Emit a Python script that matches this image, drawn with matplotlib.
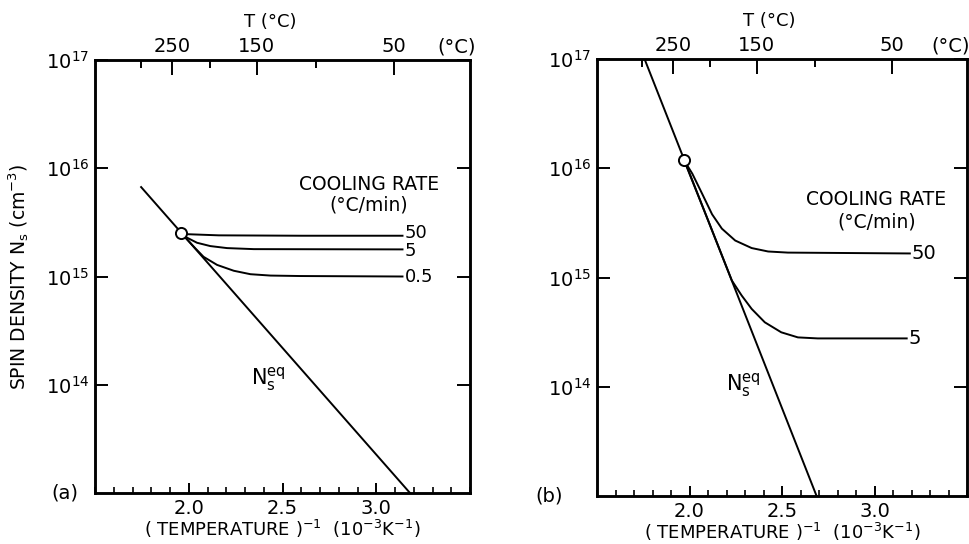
import numpy as np
import matplotlib
matplotlib.use("Agg")
import matplotlib.pyplot as plt
from matplotlib.ticker import FixedLocator, NullLocator, MultipleLocator

# inverse temperature in 10^-3 K^-1, spin density in cm^-3

# panel (a)
a_eq_x = [1.746, 3.18]
a_eq_y = [6.7e15, 1.0e13]
a_pt_x, a_pt_y = 1.958, 2.54e15
a_50_x = [1.958, 1.99, 2.16, 2.60, 3.14]
a_50_y = [2.54e15, 2.46e15, 2.40e15, 2.38e15, 2.38e15]
a_5_x = [1.958, 1.981, 2.044, 2.115, 2.204, 2.347, 3.140]
a_5_y = [2.54e15, 2.33e15, 2.05e15, 1.91e15, 1.83e15, 1.79e15, 1.78e15]
a_05_x = [1.958, 1.990, 2.035, 2.079, 2.151, 2.240, 2.329, 2.436, 2.596, 3.140]
a_05_y = [2.54e15, 2.21e15, 1.82e15, 1.52e15, 1.28e15, 1.13e15, 1.05e15, 1.02e15,
          1.01e15, 1.0e15]

# panel (b)
b_eq_x = [1.757, 2.687]
b_eq_y = [1.0e17, 1.0e13]
b_pt_x, b_pt_y = 1.971, 1.18e16
b_50_x = [1.971, 2.015, 2.068, 2.122, 2.175, 2.247, 2.336, 2.425, 2.532, 3.191]
b_50_y = [1.18e16, 8.93e15, 5.86e15, 3.79e15, 2.80e15, 2.18e15, 1.86e15, 1.73e15,
          1.69e15, 1.66e15]
b_5_x = [1.971, 2.10, 2.229, 2.282, 2.336, 2.407, 2.496, 2.586, 2.693, 3.174]
b_5_y = [1.18e16, 3.35e15, 9.38e14, 6.84e14, 5.16e14, 3.89e14, 3.15e14, 2.83e14,
         2.77e14, 2.77e14]

# top axis temperatures (deg C)
t_major = [250, 150, 50]
t_minor = [300, 200, 100]

x_major = [2.0, 2.5, 3.0]
y_ticks = [1e14, 1e15, 1e16, 1e17]
y_labels = ["10$^{14}$", "10$^{15}$", "10$^{16}$", "10$^{17}$"]

plt.rcParams["font.family"] = ["DejaVu Sans"]
plt.rcParams["mathtext.fontset"] = "dejavusans"
plt.rcParams["mathtext.default"] = "regular"

fig = plt.figure(figsize=(9.69, 5.44), dpi=100)
ax_a = fig.add_axes([95 / 969, 51 / 544, 375 / 969, 433 / 544])
ax_b = fig.add_axes([597 / 969, 48 / 544, 370 / 969, 437 / 544])

lw = 1.4


def inv_t(t):
    return [1000.0 / (v + 273.15) for v in t]


def setup(ax, tag, tag_x, tlabel_x, degc_x):
    ax.set_yscale("log")
    ax.set_xlim(1.5, 3.5)
    ax.set_ylim(1e13, 1e17)
    for s in ax.spines.values():
        s.set_linewidth(1.8)
    ax.yaxis.set_major_locator(FixedLocator(y_ticks))
    ax.yaxis.set_minor_locator(NullLocator())
    ax.set_yticklabels(y_labels)
    ax.xaxis.set_major_locator(FixedLocator(x_major))
    ax.xaxis.set_minor_locator(MultipleLocator(0.1))
    ax.set_xticklabels(["2.0", "2.5", "3.0"])
    ax.tick_params(axis="y", which="major", direction="in", length=9.5, width=1.4,
                   right=True, labelsize=14, pad=4)
    ax.tick_params(axis="x", which="major", direction="in", length=7.5, width=1.4,
                   labelsize=14, pad=4)
    ax.tick_params(axis="x", which="minor", direction="in", length=4.5, width=1.2)
    ax.set_xlabel("( TEMPERATURE )$^{-1}$  (10$^{-3}$K$^{-1}$)", fontsize=13, labelpad=0)

    top = ax.twiny()
    top.set_xlim(ax.get_xlim())
    top.set_xticks(inv_t(t_major))
    top.set_xticklabels([str(t) for t in t_major])
    top.set_xticks(inv_t(t_minor), minor=True)
    top.tick_params(axis="x", which="major", direction="in", length=11, width=1.4,
                    labelsize=14, pad=3)
    top.tick_params(axis="x", which="minor", direction="in", length=6, width=1.4)
    for s in top.spines.values():
        s.set_linewidth(1.8)
    top.text(degc_x, 1.03, "(°C)", transform=ax.transAxes, fontsize=14,
             ha="center", va="center")
    top.text(tlabel_x, 1.088, "T (°C)", transform=ax.transAxes, fontsize=13,
             ha="center", va="center")
    ax.text(tag_x, 0.0, tag, transform=ax.transAxes, fontsize=14, ha="center", va="center")


setup(ax_a, "(a)", -0.08, 0.467, 0.965)
setup(ax_b, "(b)", -0.13, 0.466, 0.957)

ax_a.set_ylabel("SPIN DENSITY N$_s$ (cm$^{-3}$)", fontsize=13.5)
ax_a.yaxis.set_label_coords(-0.17, 0.5)

# panel (a) curves
ax_a.plot(a_eq_x, a_eq_y, color="black", lw=lw)
ax_a.plot(a_50_x, a_50_y, color="black", lw=lw)
ax_a.plot(a_5_x, a_5_y, color="black", lw=lw)
ax_a.plot(a_05_x, a_05_y, color="black", lw=lw)
ax_a.plot([a_pt_x], [a_pt_y], "o", ms=8, mfc="white", mec="black", mew=1.4)
ax_a.text(a_50_x[-1] + 0.01, a_50_y[-1] * 1.07, "50", fontsize=13, ha="left", va="center")
ax_a.text(a_5_x[-1] + 0.01, a_5_y[-1] * 0.97, "5", fontsize=13, ha="left", va="center")
ax_a.text(a_05_x[-1] + 0.01, a_05_y[-1], "0.5", fontsize=13, ha="left", va="center")
ax_a.text(2.96, 10 ** 15.85, "COOLING RATE", fontsize=13.5, ha="center", va="center")
ax_a.text(2.96, 10 ** 15.66, "(°C/min)", fontsize=13.5, ha="center", va="center")
ax_a.text(2.33, 10 ** 14.05, "N$_s^{eq}$", fontsize=15, ha="left", va="center")

# panel (b) curves
ax_b.plot(b_eq_x, b_eq_y, color="black", lw=lw)
ax_b.plot(b_50_x, b_50_y, color="black", lw=lw)
ax_b.plot(b_5_x, b_5_y, color="black", lw=lw)
ax_b.plot([b_pt_x], [b_pt_y], "o", ms=8, mfc="white", mec="black", mew=1.4)
ax_b.text(b_50_x[-1] + 0.01, b_50_y[-1], "50", fontsize=14, ha="left", va="center")
ax_b.text(b_5_x[-1] + 0.01, b_5_y[-1], "5", fontsize=14, ha="left", va="center")
ax_b.text(3.01, 10 ** 15.71, "COOLING RATE", fontsize=13.5, ha="center", va="center")
ax_b.text(3.01, 10 ** 15.51, "(°C/min)", fontsize=13.5, ha="center", va="center")
ax_b.text(2.195, 10 ** 14.02, "N$_s^{eq}$", fontsize=15, ha="left", va="center")

fig.savefig("out.png", dpi=100)
